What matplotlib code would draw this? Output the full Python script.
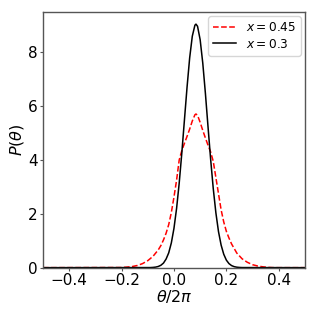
import matplotlib
matplotlib.use("Agg")
import matplotlib.pyplot as plt

# Red dashed curve (x = 0.45)
x_red = [-0.50, -0.20, -0.18, -0.16, -0.14, -0.12, -0.10, -0.08, -0.06, -0.05, -0.04,
         -0.03, -0.02, -0.01, 0.00, 0.01, 0.02, 0.03, 0.04, 0.05, 0.06, 0.07, 0.08,
         0.084, 0.09, 0.10, 0.11, 0.12, 0.13, 0.14, 0.15, 0.16, 0.17, 0.18, 0.19,
         0.20, 0.21, 0.22, 0.24, 0.26, 0.28, 0.30, 0.32, 0.34, 0.36, 0.38, 0.50]
y_red = [0.0, 0.005, 0.02, 0.04, 0.08, 0.15, 0.26, 0.42, 0.66, 0.82, 1.03,
         1.28, 1.60, 2.05, 2.62, 3.25, 4.00, 4.35, 4.62, 4.88, 5.15, 5.45, 5.68,
         5.71, 5.66, 5.40, 5.10, 4.82, 4.55, 4.30, 3.95, 3.35, 2.75, 2.15, 1.70,
         1.35, 1.10, 0.88, 0.54, 0.33, 0.20, 0.11, 0.06, 0.03, 0.01, 0.0, 0.0]

# Black solid curve (x = 0.3)
x_blk = [-0.50, -0.09, -0.08, -0.07, -0.06, -0.05, -0.04, -0.03, -0.02, -0.01, 0.00,
         0.01, 0.02, 0.03, 0.04, 0.05, 0.06, 0.07, 0.08, 0.084, 0.09, 0.10, 0.11,
         0.12, 0.13, 0.14, 0.15, 0.16, 0.17, 0.18, 0.19, 0.20, 0.21, 0.22, 0.23,
         0.24, 0.25, 0.26, 0.50]
y_blk = [0.0, 0.003, 0.009, 0.02, 0.043, 0.088, 0.17, 0.32, 0.55, 0.92, 1.46,
         2.20, 3.14, 4.26, 5.49, 6.71, 7.80, 8.60, 9.01, 9.05, 8.97, 8.47, 7.60,
         6.48, 5.24, 4.03, 2.94, 2.04, 1.34, 0.84, 0.50, 0.28, 0.15, 0.076, 0.037,
         0.017, 0.008, 0.003, 0.0]

labels = [r'$x=0.45$', r'$x=0.3$']
xticks = [-0.4, -0.2, 0.0, 0.2, 0.4]
yticks = [0, 2, 4, 6, 8]

fig = plt.figure(figsize=(3.16, 3.16), dpi=100)
ax = fig.add_axes([0.136, 0.153, 0.829, 0.809])
ax.plot(x_red, y_red, '--', color='red', lw=1.1, label=labels[0])
ax.plot(x_blk, y_blk, '-', color='black', lw=1.1, label=labels[1])
ax.set_xlim(-0.5, 0.5)
ax.set_ylim(0, 9.5)
ax.set_xticks(xticks)
ax.set_yticks(yticks)
ax.tick_params(labelsize=11, length=2.5, width=0.8, pad=1.5, color='#555555')
for s in ax.spines.values():
    s.set_color('#555555')
    s.set_linewidth(1.0)
ax.set_xlabel(r'$\theta/2\pi$', fontsize=11.5, labelpad=0)
ax.set_ylabel(r'$P(\theta)$', fontsize=11.5, labelpad=1)
ax.legend(loc='upper right', fontsize=8.7, handlelength=1.9, borderpad=0.4,
          labelspacing=0.3, borderaxespad=0.35)
fig.savefig('out.png', dpi=100)
